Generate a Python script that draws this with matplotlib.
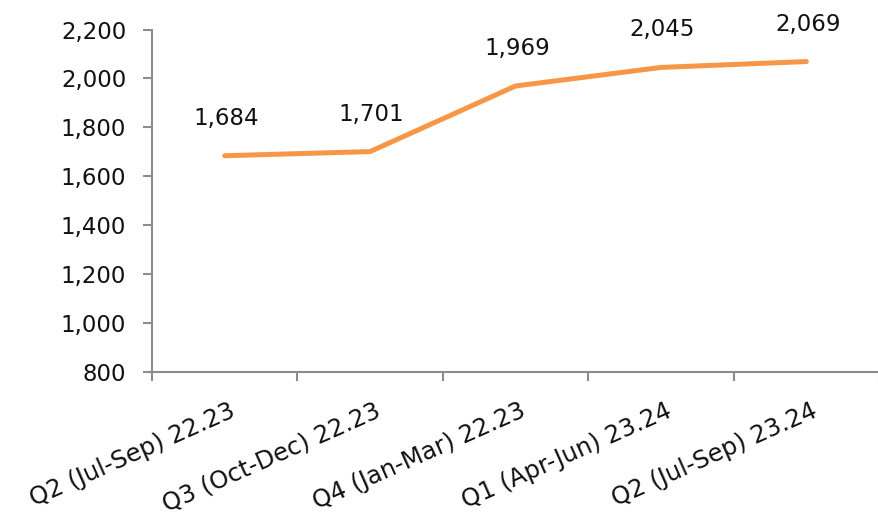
import matplotlib
matplotlib.use("Agg")
import matplotlib.pyplot as plt
from matplotlib.ticker import FuncFormatter, FixedLocator

categories = ["Q2 (Jul-Sep) 22.23", "Q3 (Oct-Dec) 22.23", "Q4 (Jan-Mar) 22.23",
              "Q1 (Apr-Jun) 23.24", "Q2 (Jul-Sep) 23.24"]
values = [1684, 1701, 1969, 2045, 2069]
y_ticks = [800, 1000, 1200, 1400, 1600, 1800, 2000, 2200]

plt.rcParams['font.family'] = ['DejaVu Sans']
fig = plt.figure(figsize=(8.79, 5.15), dpi=100)
ax = fig.add_axes([152/879, 1-372/515, 1-152/879, (372-29.5)/515])

x = list(range(len(categories)))
ax.plot(x, values, color='#F79646', lw=3.6, solid_capstyle='round', solid_joinstyle='round')
for xi, v in zip(x, values):
    ax.annotate(f"{v:,}", (xi, v), xytext=(1, 27), textcoords='offset points',
                ha='center', va='center', fontsize=16.5, color='#111111')

ax.set_xlim(-0.5, len(categories)-0.5)
ax.set_ylim(800, 2200)
ax.set_yticks(y_ticks)
ax.yaxis.set_major_formatter(FuncFormatter(lambda v, p: f"{int(v):,}"))
ax.set_xticks([xi + 0.03 for xi in x])
ax.set_xticklabels(categories, rotation=24, ha='right', va='top', rotation_mode='anchor',
                   fontsize=17.5, color='#111111')
ax.xaxis.set_minor_locator(FixedLocator([i - 0.5 for i in range(len(categories)+1)]))
ax.tick_params(axis='x', which='major', length=0, pad=19)
ax.tick_params(axis='x', which='minor', length=6.5, width=1.5, color='#8c8c8c', direction='out')
ax.tick_params(axis='y', length=6.5, width=1.5, color='#8c8c8c', direction='out', pad=12,
               labelsize=16.5, labelcolor='#111111')
for s in ['top', 'right']:
    ax.spines[s].set_visible(False)
for s in ['left', 'bottom']:
    ax.spines[s].set_color('#8c8c8c')
    ax.spines[s].set_linewidth(1.5)
ax.spines['left'].set_zorder(0)
fig.savefig("out.png", dpi=100)
